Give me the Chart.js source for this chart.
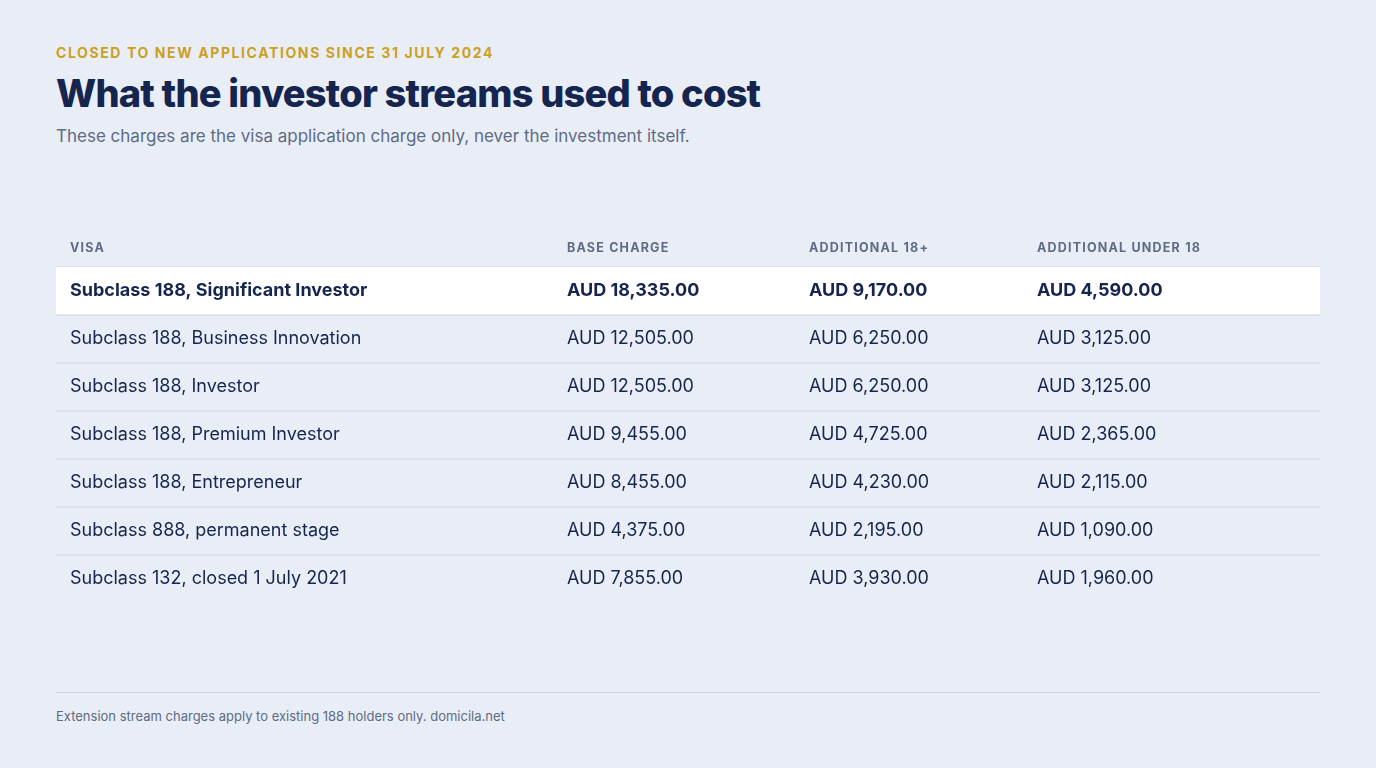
<!DOCTYPE html>
<html><head><meta charset="utf-8">
<script src="https://cdn.jsdelivr.net/npm/chart.js@4.4.1/dist/chart.umd.min.js"></script>
<style>
html,body{margin:0;padding:0;background:#e9eef6;width:1376px;height:768px;overflow:hidden;font-family:Inter,sans-serif}
.eb{position:absolute;left:56px;top:44px;font-size:14px;font-weight:700;letter-spacing:1.6px;color:#cc9f1f}
.t{position:absolute;left:56px;top:70px;font-size:38px;font-weight:800;letter-spacing:-0.8px;color:#15254f}
.s{position:absolute;left:56px;top:126px;font-size:17px;color:#5d6b85}
#wrap{position:absolute;left:56px;top:225px;width:1264px;height:378px}
.fl{position:absolute;left:56px;top:692px;width:1264px;height:1px;background:#cdd4e0}
.f{position:absolute;left:56px;top:708px;font-size:13px;color:#5d6b85}
</style></head><body>
<div class="eb">CLOSED TO NEW APPLICATIONS SINCE 31 JULY 2024</div>
<div class="t">What the investor streams used to cost</div>
<div class="s">These charges are the visa application charge only, never the investment itself.</div>
<div id="wrap"><canvas id="c"></canvas></div>
<div class="fl"></div>
<div class="f">Extension stream charges apply to existing 188 holders only. domicila.net</div>
<script>
const headers = ["VISA","BASE CHARGE","ADDITIONAL 18+","ADDITIONAL UNDER 18"];
const visas = ["Subclass 188, Significant Investor","Subclass 188, Business Innovation","Subclass 188, Investor","Subclass 188, Premium Investor","Subclass 188, Entrepreneur","Subclass 888, permanent stage","Subclass 132, closed 1 July 2021"];
const baseCharge = [18335,12505,12505,9455,8455,4375,7855];
const adult = [9170,6250,6250,4725,4230,2195,3930];
const child = [4590,3125,3125,2365,2115,1090,1960];
const highlight = 0;
const colX = [14,511,753,981];
const fmt = v => "AUD " + v.toLocaleString("en-US",{minimumFractionDigits:2,maximumFractionDigits:2});
const table = {
  id:'table',
  afterDraw(chart){
    const ctx=chart.ctx, y=chart.scales.y, a=chart.chartArea;
    const L=0, R=chart.width;
    const step = y.getPixelForValue(1)-y.getPixelForValue(0);
    ctx.save();
    ctx.textBaseline='middle';
    // header
    ctx.font='700 12.5px Inter'; ctx.fillStyle='#5d6b85';
    ctx.letterSpacing='1.2px';
    headers.forEach((h,i)=>ctx.fillText(h,colX[i],a.top-19));
    ctx.letterSpacing='0px';
    ctx.fillStyle='#cdd4e0'; ctx.fillRect(L,a.top-0.5,R,1);
    visas.forEach((v,i)=>{
      const cy=y.getPixelForValue(i);
      if(i===highlight){ctx.fillStyle='#ffffff';ctx.fillRect(L,cy-step/2,R,step);}
      if(i<visas.length-1){ctx.fillStyle='#cdd4e0';ctx.fillRect(L,cy+step/2-0.5,R,1);}
      ctx.fillStyle='#15254f';
      ctx.font=(i===highlight?'700 ':'400 ')+'18px Inter';
      ctx.fillText(v,colX[0],cy);
      ctx.fillText(fmt(baseCharge[i]),colX[1],cy);
      ctx.fillText(fmt(adult[i]),colX[2],cy);
      ctx.fillText(fmt(child[i]),colX[3],cy);
    });
    ctx.restore();
  }
};
new Chart(document.getElementById('c'),{
  type:'bar',
  data:{labels:visas,datasets:[{data:baseCharge.map(()=>null)}]},
  options:{indexAxis:'y',responsive:true,maintainAspectRatio:false,animation:false,
    layout:{padding:{top:42,left:0,right:0,bottom:0}},
    plugins:{legend:{display:false},tooltip:{enabled:false}},
    scales:{x:{display:false,min:0,max:1},y:{display:false,offset:true}}},
  plugins:[table]
});
</script></body></html>
